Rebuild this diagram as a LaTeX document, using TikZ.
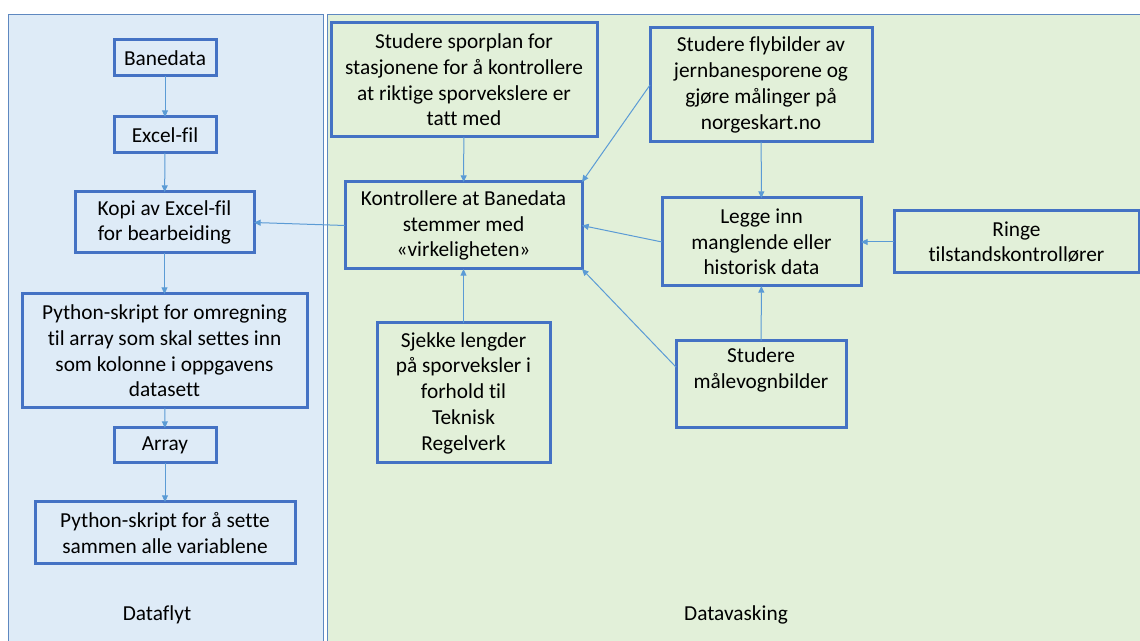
\documentclass[tikz,border=0pt]{standalone}
\usepackage{fontspec}
\setmainfont[Ligatures=NoCommon]{Carlito}
\usetikzlibrary{arrows.meta,calc}
\definecolor{boxblue}{HTML}{4472C4}
\definecolor{arrowblue}{HTML}{5B9BD5}
\definecolor{panelline}{HTML}{5E88C0}
\definecolor{bluefill}{HTML}{DEEBF7}
\definecolor{greenfill}{HTML}{E2F0D9}
\tikzset{
  box/.style={draw=boxblue, line width=2.25pt, inner sep=0pt, outer sep=0pt, align=center,
    font=\fontsize{16}{19.3}\selectfont},
  conn/.style={draw=arrowblue, line width=0.75pt, -{Triangle[length=5pt,width=4.5pt]}},
  panel/.style={draw=panelline, line width=0.75pt},
  lbl/.style={font=\fontsize{16}{19.3}\selectfont, inner sep=0pt}
}
\begin{document}
\begin{tikzpicture}[x=0.75pt,y=-0.75pt]
\useasboundingbox (0,0) rectangle (1140,641);
% panels
\fill[white] (0,0) rectangle (1140,641);
\draw[panel, fill=bluefill] (8,15) rectangle (323,650);
\draw[panel, fill=greenfill] (327,15) rectangle (1150,650);
\node[lbl] (dataflyt) at (157,615) {Dataflyt};
\node[lbl] (datavasking) at (736,615) {Datavasking};
% left column
\node[box, minimum width=76.5pt, minimum height=27pt] (banedata) at (165,58) {Banedata};
\node[box, minimum width=76.5pt, minimum height=27pt] (excel) at (165,135) {Excel-fil};
\node[box, minimum width=134.25pt, minimum height=45.75pt] (kopi) at (164.5,222.5) {Kopi av Excel-fil\\for bearbeiding};
\node[box, minimum width=213.75pt, minimum height=85.5pt] (pyomr) at (164.5,351) {Python-skript for omregning\\til array som skal settes inn\\som kolonne i oppgavens\\datasett};
\node[box, minimum width=76.5pt, minimum height=26.25pt] (array) at (165,445.5) {Array};
\node[box, minimum width=195pt, minimum height=46.5pt] (pysette) at (165,533) {Python-skript for å sette\\sammen alle variablene};
% right area
\node[box, minimum width=199.5pt, minimum height=85.5pt] (sporplan) at (464,80) {Studere sporplan for\\stasjonene for å kontrollere\\at riktige sporvekslere er\\tatt med};
\node[box, minimum width=177.75pt, minimum height=65.25pt] (kontroll) at (463.5,225.5) {Kontrollere at Banedata\\stemmer med\\«virkeligheten»};
\node[box, minimum width=166.5pt, minimum height=85.5pt] (flybilder) at (761,85) {Studere flybilder av\\jernbanesporene og\\gjøre målinger på\\norgeskart.no};
\node[box, minimum width=149.25pt, minimum height=66pt] (legge) at (761.5,242) {Legge inn\\manglende eller\\historisk data};
\node[box, minimum width=183.75pt, minimum height=46.5pt] (ringe) at (1016.5,242) {Ringe\\tilstandskontrollører};
\node[box, minimum width=129.75pt, minimum height=105pt] (sjekke) at (463.5,393) {Sjekke lengder\\på sporveksler i\\forhold til\\Teknisk\\Regelverk};
\node[box, minimum width=127.5pt, minimum height=65.25pt] (malevogn) at (761,384.5) {Studere\\målevognbilder\\\strut};
% connectors
\draw[conn] (banedata) -- (excel);
\draw[conn] (excel) -- (kopi);
\draw[conn] (kopi) -- (pyomr);
\draw[conn] (pyomr) -- (array);
\draw[conn] (array) -- (pysette);
\draw[conn] (kontroll.west) -- (kopi.east);
\draw[conn] (sporplan) -- (kontroll);
\draw[conn] (flybilder.west) -- (kontroll.north east);
\draw[conn] (legge.west) -- (kontroll.east);
\draw[conn] (flybilder) -- (legge);
\draw[conn] (ringe.west) -- (legge.east);
\draw[conn] (malevogn) -- (legge);
\draw[conn] ($(malevogn.north west)!0.3!(malevogn.south west)$) -- (kontroll.south east);
\draw[conn] (sjekke) -- (kontroll);
\end{tikzpicture}
\end{document}
